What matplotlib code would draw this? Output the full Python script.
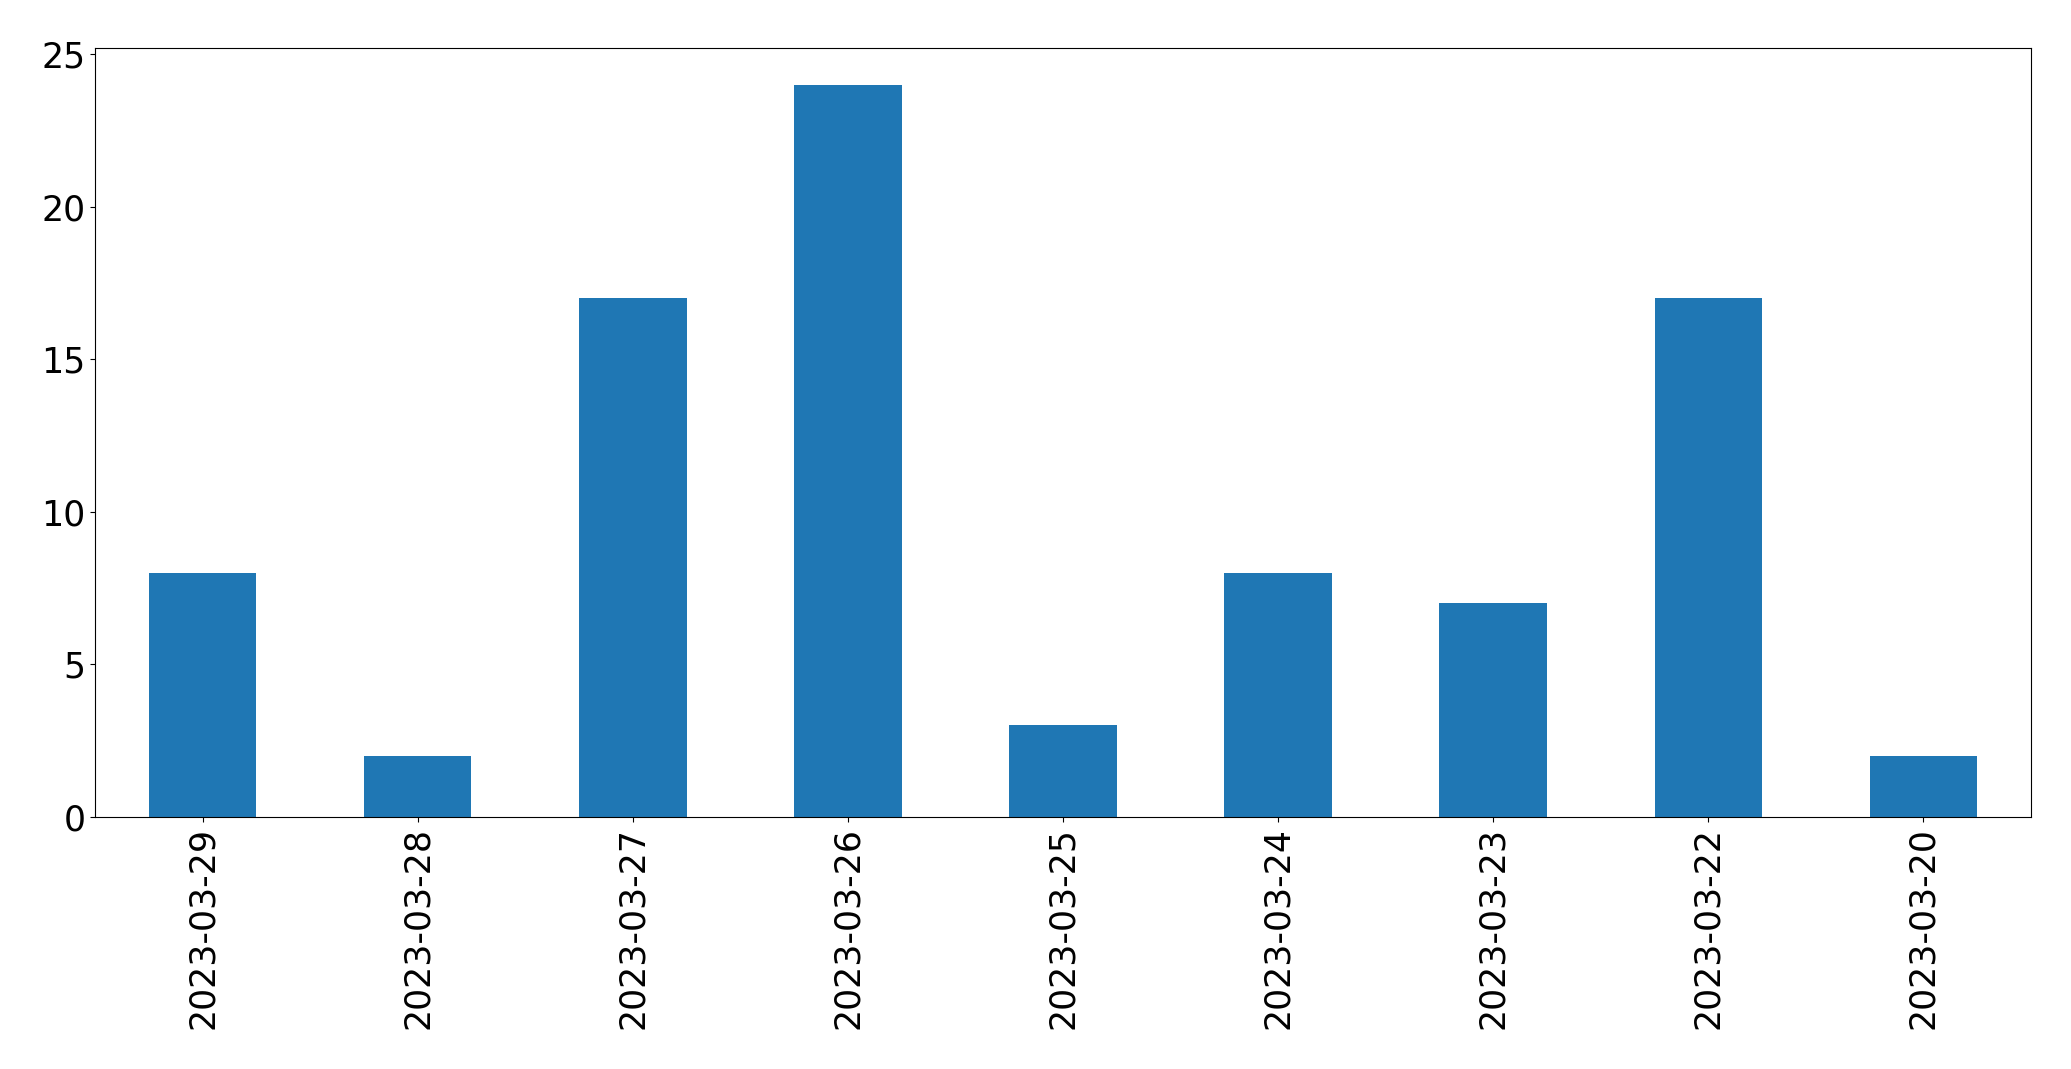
import matplotlib
matplotlib.use("Agg")
import matplotlib.pyplot as plt
import pandas as pd

dates = ["2023-03-29", "2023-03-28", "2023-03-27", "2023-03-26", "2023-03-25",
         "2023-03-24", "2023-03-23", "2023-03-22", "2023-03-20"]
counts = [8, 2, 17, 24, 3, 8, 7, 17, 2]

s = pd.Series(counts, index=dates)

fig = plt.figure(figsize=(20.71, 10.69), dpi=100)
ax = fig.add_axes([95 / 2071, 1 - 817 / 1069, (2031 - 95) / 2071, (817 - 48) / 1069])
s.plot(kind="bar", ax=ax, color="#1f77b4", width=0.5)
ax.tick_params(axis="both", labelsize=25)
fig.savefig("out.png", dpi=100)
